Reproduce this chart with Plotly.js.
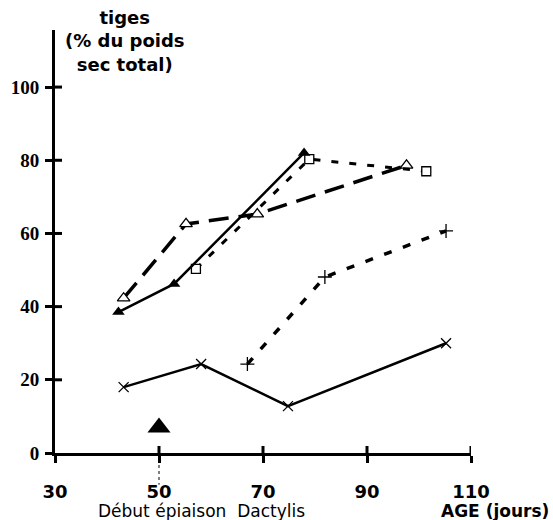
<!DOCTYPE html>
<html><head><meta charset="utf-8">
<script src="https://cdn.plot.ly/plotly-3.0.1.min.js"></script>
<style>html,body{margin:0;padding:0;background:#fff}</style>
</head><body><div id="chart" style="width:553px;height:520px"></div>
<script>
// Série A : triangles pleins, trait plein
const ageA = [42.2, 52.9, 77.9];
const tigesA = [38.5, 46.2, 82.0];
// Série B : triangles vides, tirets longs
const ageB = [43.2, 55.2, 68.9, 97.6];
const tigesB = [42.3, 62.6, 65.3, 78.6];
// Série C : carrés, tirets courts
const ageC = [57.1, 78.9, 101.4];
const tigesC = [50.3, 80.3, 77.0];
// Série D : croix (x), trait plein
const ageD = [43.2, 58.1, 74.8, 105.2];
const tigesD = [18.0, 24.3, 12.8, 30.0];
// Série E : plus, pointillés
const ageE = [67.0, 81.9, 105.2];
const tigesE = [24.3, 48.1, 60.7];
// Repère début épiaison
const ageEpiaison = [50];
const yRepere = [7];
const xTicks = [30, 50, 70, 90, 110];
const yTicks = [0, 20, 40, 60, 80, 100];

const traces = [
  {x: ageB, y: tigesB, mode: 'lines+markers', line: {color: '#000', width: 3.5, dash: '20px,10px'},
   marker: {symbol: 'triangle-up', size: 11, color: '#fff', line: {color: '#000', width: 1.3}}},
  {x: ageC, y: tigesC, mode: 'lines+markers', line: {color: '#000', width: 3, dash: '7px,11px'},
   marker: {symbol: 'square', size: 9, color: '#fff', line: {color: '#000', width: 1.3}}},
  {x: ageA, y: tigesA, mode: 'lines+markers', line: {color: '#000', width: 2.5},
   marker: {symbol: 'triangle-up', size: 11, color: '#000'}},
  {x: ageD, y: tigesD, mode: 'lines+markers', line: {color: '#000', width: 2.5},
   marker: {symbol: 'x-thin-open', size: 10, line: {color: '#000', width: 1.3}}},
  {x: ageE, y: tigesE, mode: 'lines+markers', line: {color: '#000', width: 3.5, dash: '8px,12px'},
   marker: {symbol: 'cross-thin-open', size: 10, line: {color: '#000', width: 1.3}}},
  {x: ageEpiaison, y: yRepere, mode: 'markers', marker: {symbol: 'triangle-up', size: 20, color: '#000'}}
];

// inward halves of the crossing ticks, placed on the axes' own scales
const tickShapes = [];
xTicks.slice(1).forEach(v => tickShapes.push({type: 'line', xref: 'x', yref: 'paper',
  ysizemode: 'pixel', yanchor: 0, x0: v, x1: v, y0: 0, y1: 7, line: {color: '#000', width: 3}}));
yTicks.slice(1).forEach(v => tickShapes.push({type: 'line', xref: 'paper', yref: 'y',
  xsizemode: 'pixel', xanchor: 0, y0: v, y1: v, x0: 0, x1: 7, line: {color: '#000', width: 3}}));

const ymax = 115.6;
const layout = {
  width: 553, height: 520,
  margin: {l: 55, r: 82, t: 30, b: 67},
  paper_bgcolor: '#fff', plot_bgcolor: 'rgba(0,0,0,0)',
  showlegend: false,
  xaxis: {range: [30, 110], tickvals: xTicks, ticktext: xTicks.map(String),
    showline: true, linecolor: '#000', linewidth: 3, showgrid: false, zeroline: false,
    ticks: 'outside', ticklen: 7, tickwidth: 3, tickcolor: '#000',
    ticklabelstandoff: 13,
    tickfont: {family: 'DejaVu Sans', size: 18, color: '#000', weight: 'bold'}},
  yaxis: {range: [0, ymax], tickvals: yTicks, ticktext: yTicks.map(String),
    showline: true, linecolor: '#000', linewidth: 3, showgrid: false, zeroline: false,
    ticks: 'outside', ticklen: 7, tickwidth: 3, tickcolor: '#000',
    ticklabelstandoff: 2,
    tickfont: {family: 'Liberation Serif', size: 19, color: '#000', weight: 'bold'}},
  shapes: tickShapes.concat([
    {type: 'line', xref: 'x', yref: 'paper', x0: 50, x1: 50, y0: 0, y1: -0.075,
     line: {color: '#000', width: 1, dash: 'dot'}}
  ]),
  annotations: [
    {text: '<b>tiges<br>(% du poids<br>sec total)</b>', xref: 'paper', yref: 'paper',
     x: 0.168, y: 1.06, xanchor: 'center', yanchor: 'top', showarrow: false, align: 'center',
     font: {family: 'DejaVu Sans', size: 18, color: '#000'}},
    {text: 'Début épiaison  Dactylis', xref: 'paper', yref: 'paper',
     x: (201 - 55) / 416, y: (453 - 511) / 423, xanchor: 'center', yanchor: 'middle', showarrow: false,
     font: {family: 'DejaVu Sans', size: 17, color: '#000'}},
    {text: '<b>AGE (jours)</b>', xref: 'paper', yref: 'paper',
     x: (551 - 55) / 416, y: (453 - 511) / 423, xanchor: 'right', yanchor: 'middle', showarrow: false,
     font: {family: 'DejaVu Sans', size: 17, color: '#000'}}
  ]
};
Plotly.newPlot('chart', traces, layout, {staticPlot: true});
</script></body></html>
